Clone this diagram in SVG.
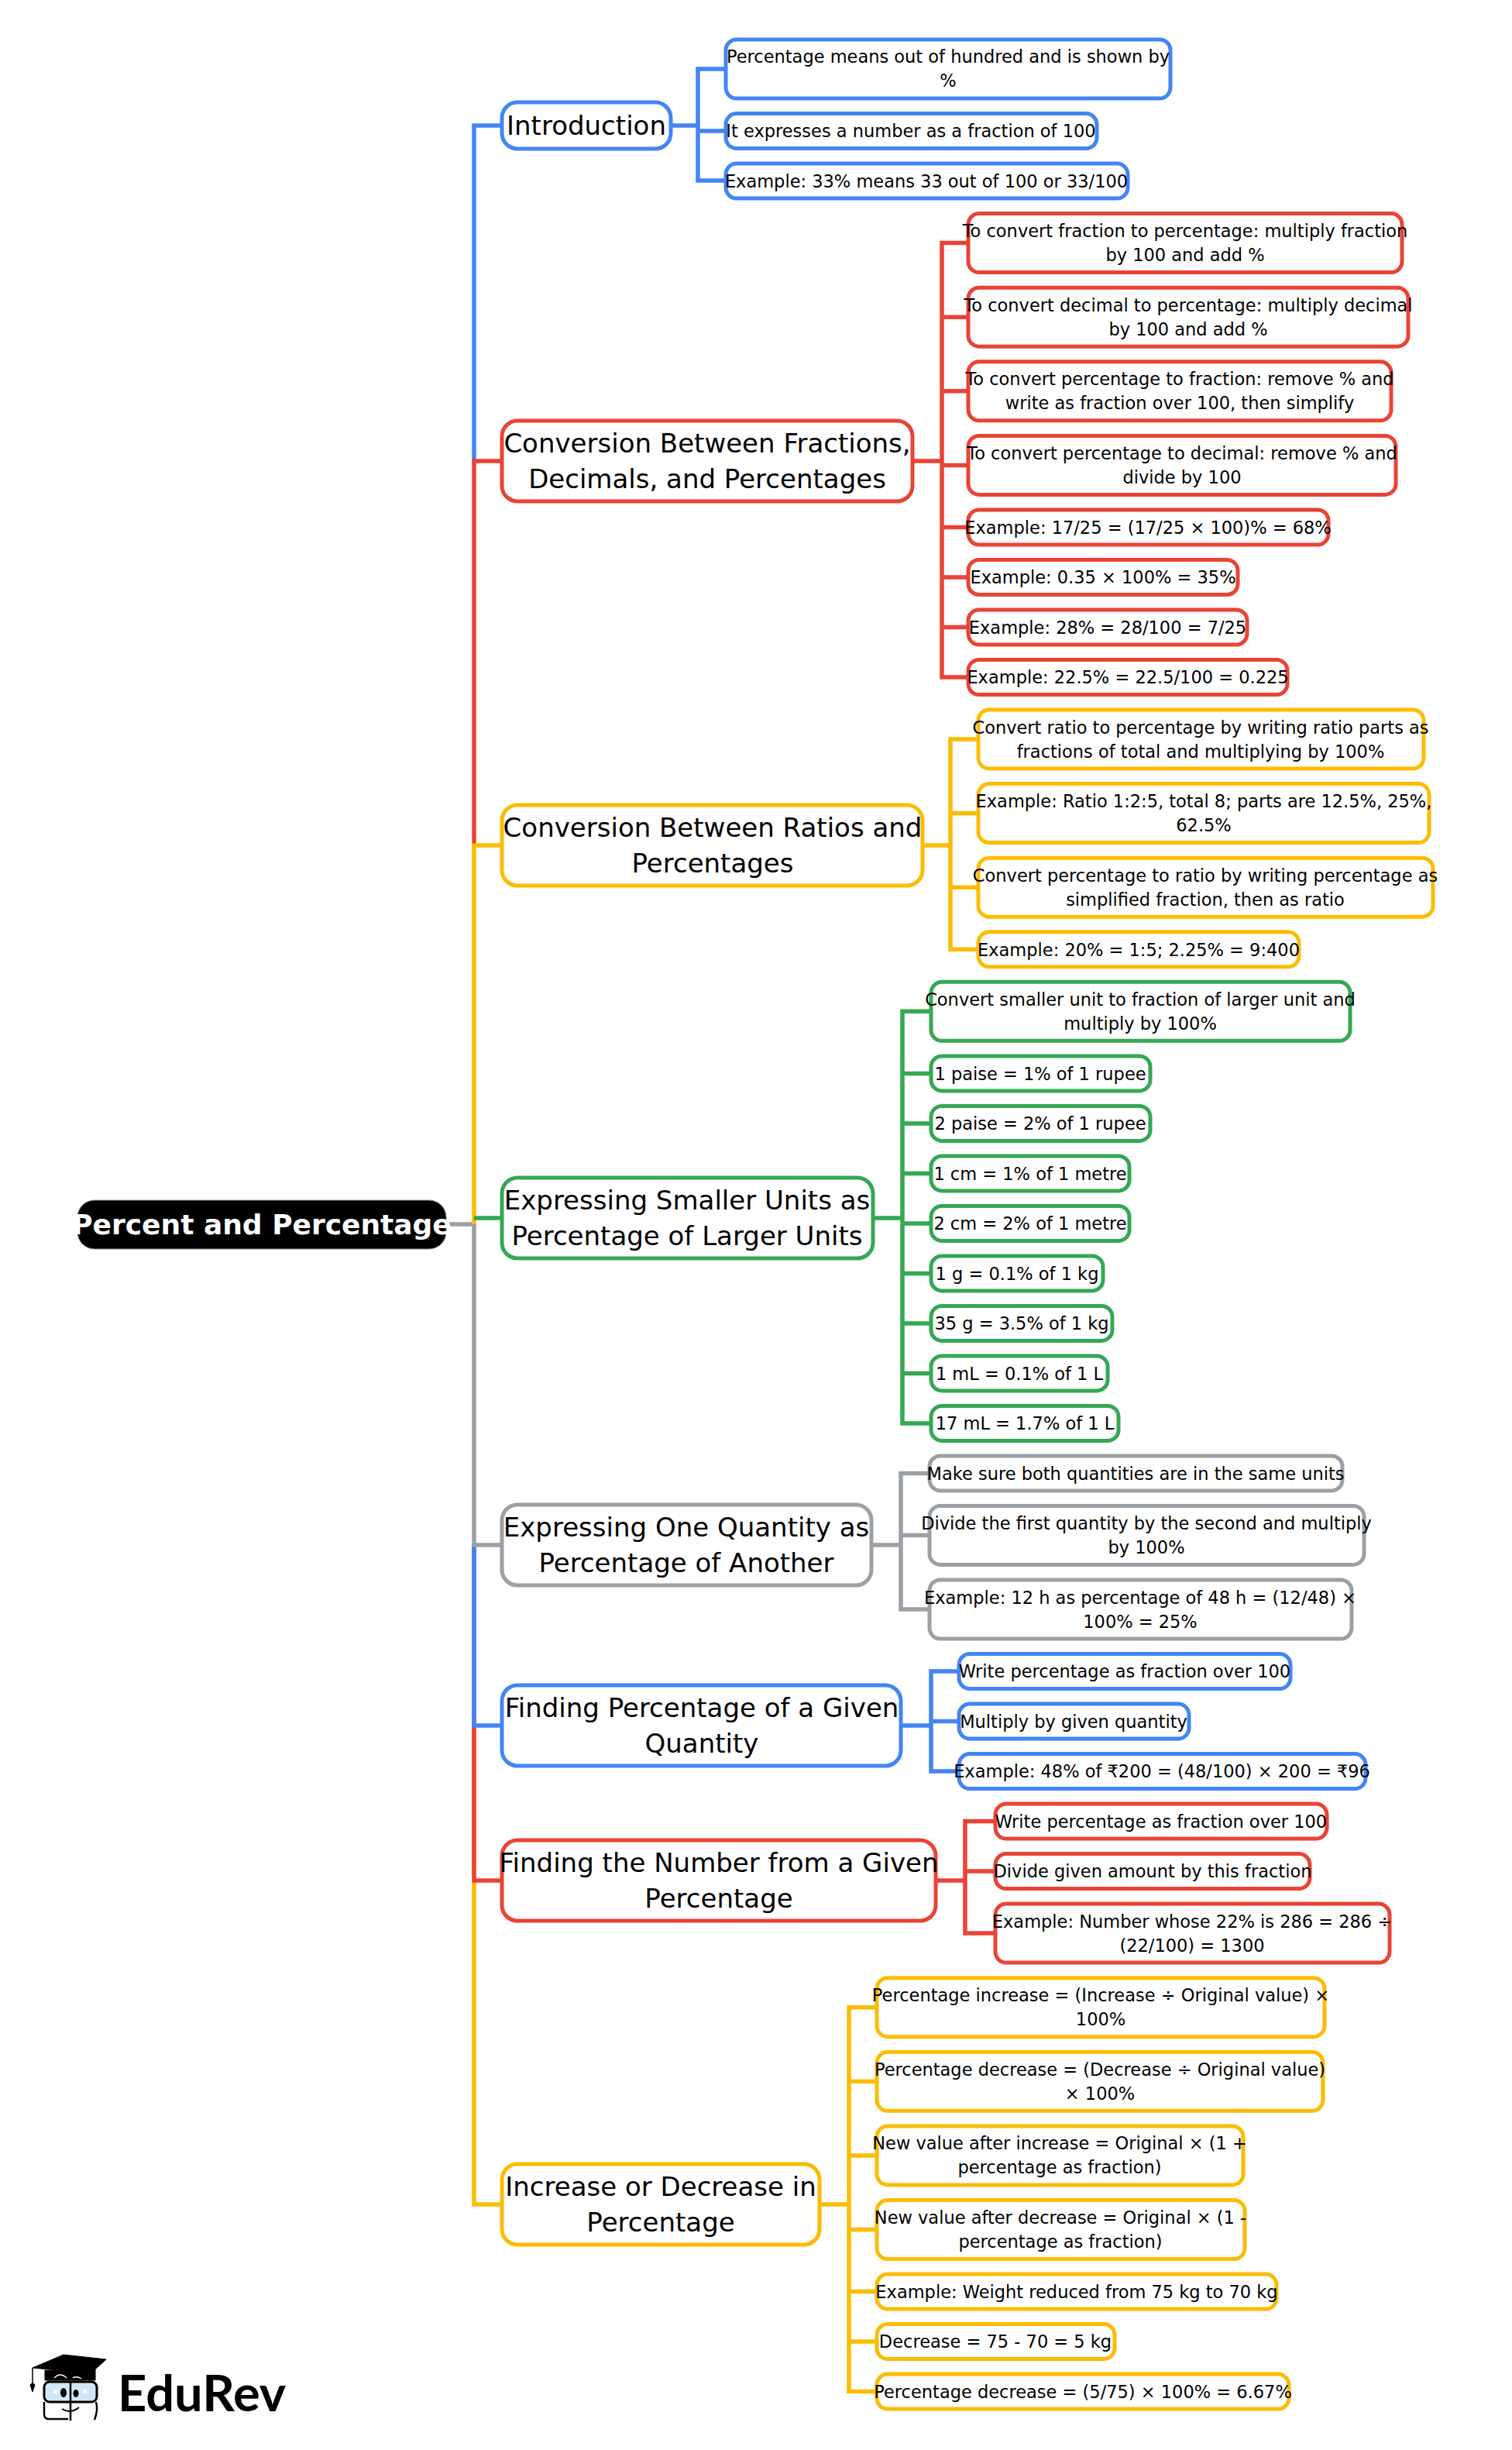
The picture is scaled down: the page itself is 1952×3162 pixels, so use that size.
<svg xmlns="http://www.w3.org/2000/svg" width="1952" height="3162" viewBox="0 0 1952 3162">
<style>
text{font-family:"DejaVu Sans",sans-serif;fill:#000;text-anchor:middle}
.l{font-size:22.5px}.m{font-size:34px}.r{font-size:36px;font-weight:bold;fill:#fff}
rect{fill:#fff;stroke-width:5}
.m0{rx:20px}.b{stroke:#4285F4}.e{stroke:#EA4335}.y{stroke:#FBBC04}.g{stroke:#34A853}.a{stroke:#9AA0A6}
path{fill:none;stroke-width:5.5}
</style>
<rect width="1952" height="3162" style="fill:#fff;stroke:none"/>
<g id="connectors">
<path class="a" d="M576 1580H612"/>
<path class="b" d="M612 595V162H648"/>
<path class="e" d="M612 1091V595H648"/>
<path class="y" d="M612 1580V1091H648"/>
<path class="g" d="M612 1572H648"/>
<path class="y" d="M612 1994V2845H648"/>
<path class="e" d="M612 1994V2427H648"/>
<path class="b" d="M612 1994V2227H648"/>
<path class="a" d="M612 1580V1994H648"/>
<path class="b" d="M866 162H901M937 89H901V233H937M901 169H937"/>
<path class="e" d="M1178 595H1216M1250 313.600H1216V874H1250M1216 409.200H1250M1216 504.800H1250M1216 600.400H1250M1216 680.500H1250M1216 745H1250M1216 809.500H1250"/>
<path class="y" d="M1191 1091H1227M1263 954H1227V1225.300H1263M1227 1049.600H1263M1227 1145.200H1263"/>
<path class="g" d="M1127 1572H1165M1202 1305.300H1165V1836.900H1202M1165 1385.400H1202M1165 1449.900H1202M1165 1514.400H1202M1165 1578.900H1202M1165 1643.400H1202M1165 1707.900H1202M1165 1772.400H1202"/>
<path class="a" d="M1125 1994H1163M1200 1901.400H1163V2077H1200M1163 1981.400H1200"/>
<path class="b" d="M1163 2227H1202M1238 2157.100H1202V2286.100H1238M1202 2221.600H1238"/>
<path class="e" d="M1208 2427H1246M1285 2350.600H1246V2495.100H1285M1246 2415.100H1285"/>
<path class="y" d="M1058 2845H1096M1132 2590.700H1096V3086.600H1132M1096 2686.300H1132M1096 2781.900H1132M1096 2877.500H1132M1096 2957.600H1132M1096 3022.100H1132"/>
</g>
<g id="root"><rect x="100" y="1549" width="476" height="63" rx="22" style="fill:#000;stroke:#888;stroke-width:1"/><text class="r" x="338" y="1593">Percent and Percentage</text></g>
<g id="n1"><rect class="b" x="648" y="132" width="218" height="60" rx="20"/><text class="m" x="757" y="174">Introduction</text></g>
<g id="n2"><rect class="e" x="648" y="543" width="530" height="104" rx="20"/><text class="m" x="913" y="584">Conversion Between Fractions,</text><text class="m" x="913" y="630">Decimals, and Percentages</text></g>
<g id="n3"><rect class="y" x="648" y="1039" width="543" height="104" rx="20"/><text class="m" x="920" y="1080">Conversion Between Ratios and</text><text class="m" x="920" y="1126">Percentages</text></g>
<g id="n4"><rect class="g" x="648" y="1520" width="479" height="104" rx="20"/><text class="m" x="887" y="1561">Expressing Smaller Units as</text><text class="m" x="887" y="1607">Percentage of Larger Units</text></g>
<g id="n5"><rect class="a" x="648" y="1942" width="477" height="104" rx="20"/><text class="m" x="886" y="1983">Expressing One Quantity as</text><text class="m" x="886" y="2029">Percentage of Another</text></g>
<g id="n6"><rect class="b" x="648" y="2175" width="515" height="104" rx="20"/><text class="m" x="906" y="2216">Finding Percentage of a Given</text><text class="m" x="906" y="2262">Quantity</text></g>
<g id="n7"><rect class="e" x="648" y="2375" width="560" height="104" rx="20"/><text class="m" x="928" y="2416">Finding the Number from a Given</text><text class="m" x="928" y="2462">Percentage</text></g>
<g id="n8"><rect class="y" x="648" y="2793" width="410" height="104" rx="20"/><text class="m" x="853" y="2834">Increase or Decrease in</text><text class="m" x="853" y="2880">Percentage</text></g>

<g id="l11"><rect class="b" x="937" y="51" width="574" height="76" rx="14"/><text class="l" x="1224" y="81">Percentage means out of hundred and is shown by</text><text class="l" x="1224" y="112">%</text></g>
<g id="l12"><rect class="b" x="937" y="146.600" width="479" height="45" rx="14"/><text class="l" x="1176" y="177">It expresses a number as a fraction of 100</text></g>
<g id="l13"><rect class="b" x="937" y="211.100" width="519" height="45" rx="14"/><text class="l" x="1196" y="241.500">Example: 33% means 33 out of 100 or 33/100</text></g>

<g id="l21"><rect class="e" x="1250" y="275.600" width="560" height="76" rx="14"/><text class="l" x="1530" y="306">To convert fraction to percentage: multiply fraction</text><text class="l" x="1530" y="337">by 100 and add %</text></g>
<g id="l22"><rect class="e" x="1250" y="371.200" width="568" height="76" rx="14"/><text class="l" x="1534" y="401.500">To convert decimal to percentage: multiply decimal</text><text class="l" x="1534" y="432.500">by 100 and add %</text></g>
<g id="l23"><rect class="e" x="1250" y="466.800" width="546" height="76" rx="14"/><text class="l" x="1523" y="497">To convert percentage to fraction: remove % and</text><text class="l" x="1523" y="528">write as fraction over 100, then simplify</text></g>
<g id="l24"><rect class="e" x="1250" y="562.400" width="552" height="76" rx="14"/><text class="l" x="1526" y="592.500">To convert percentage to decimal: remove % and</text><text class="l" x="1526" y="623.500">divide by 100</text></g>
<g id="l25"><rect class="e" x="1250" y="658" width="465" height="45" rx="14"/><text class="l" x="1482" y="688.500">Example: 17/25 = (17/25 × 100)% = 68%</text></g>
<g id="l26"><rect class="e" x="1250" y="722.500" width="348" height="45" rx="14"/><text class="l" x="1424" y="753">Example: 0.35 × 100% = 35%</text></g>
<g id="l27"><rect class="e" x="1250" y="787" width="360" height="45" rx="14"/><text class="l" x="1430" y="817.500">Example: 28% = 28/100 = 7/25</text></g>
<g id="l28"><rect class="e" x="1250" y="851.500" width="412" height="45" rx="14"/><text class="l" x="1456" y="882">Example: 22.5% = 22.5/100 = 0.225</text></g>

<g id="l31"><rect class="y" x="1263" y="916" width="575" height="76" rx="14"/><text class="l" x="1550" y="946.500">Convert ratio to percentage by writing ratio parts as</text><text class="l" x="1550" y="977.500">fractions of total and multiplying by 100%</text></g>
<g id="l32"><rect class="y" x="1263" y="1011.600" width="582" height="76" rx="14"/><text class="l" x="1554" y="1042">Example: Ratio 1:2:5, total 8; parts are 12.5%, 25%,</text><text class="l" x="1554" y="1073">62.5%</text></g>
<g id="l33"><rect class="y" x="1263" y="1107.200" width="587" height="76" rx="14"/><text class="l" x="1556" y="1137.500">Convert percentage to ratio by writing percentage as</text><text class="l" x="1556" y="1168.500">simplified fraction, then as ratio</text></g>
<g id="l34"><rect class="y" x="1263" y="1202.800" width="414" height="45" rx="14"/><text class="l" x="1470" y="1233.500">Example: 20% = 1:5; 2.25% = 9:400</text></g>

<g id="l41"><rect class="g" x="1202" y="1267.300" width="541" height="76" rx="14"/><text class="l" x="1472" y="1297.500">Convert smaller unit to fraction of larger unit and</text><text class="l" x="1472" y="1328.500">multiply by 100%</text></g>
<g id="l42"><rect class="g" x="1202" y="1362.900" width="283" height="45" rx="14"/><text class="l" x="1343" y="1393.500">1 paise = 1% of 1 rupee</text></g>
<g id="l43"><rect class="g" x="1202" y="1427.400" width="283" height="45" rx="14"/><text class="l" x="1343" y="1458">2 paise = 2% of 1 rupee</text></g>
<g id="l44"><rect class="g" x="1202" y="1491.900" width="256" height="45" rx="14"/><text class="l" x="1330" y="1522.500">1 cm = 1% of 1 metre</text></g>
<g id="l45"><rect class="g" x="1202" y="1556.400" width="256" height="45" rx="14"/><text class="l" x="1330" y="1587">2 cm = 2% of 1 metre</text></g>
<g id="l46"><rect class="g" x="1202" y="1620.900" width="222" height="45" rx="14"/><text class="l" x="1313" y="1651.500">1 g = 0.1% of 1 kg</text></g>
<g id="l47"><rect class="g" x="1202" y="1685.400" width="234" height="45" rx="14"/><text class="l" x="1319" y="1716">35 g = 3.5% of 1 kg</text></g>
<g id="l48"><rect class="g" x="1202" y="1749.900" width="228" height="45" rx="14"/><text class="l" x="1316" y="1780.500">1 mL = 0.1% of 1 L</text></g>
<g id="l49"><rect class="g" x="1202" y="1814.400" width="242" height="45" rx="14"/><text class="l" x="1323" y="1845">17 mL = 1.7% of 1 L</text></g>

<g id="l51"><rect class="a" x="1200" y="1878.900" width="533" height="45" rx="14"/><text class="l" x="1466" y="1909.500">Make sure both quantities are in the same units</text></g>
<g id="l52"><rect class="a" x="1200" y="1943.400" width="561" height="76" rx="14"/><text class="l" x="1480" y="1973.500">Divide the first quantity by the second and multiply</text><text class="l" x="1480" y="2004.500">by 100%</text></g>
<g id="l53"><rect class="a" x="1200" y="2039" width="545" height="76" rx="14"/><text class="l" x="1472" y="2069.500">Example: 12 h as percentage of 48 h = (12/48) ×</text><text class="l" x="1472" y="2100.500">100% = 25%</text></g>

<g id="l61"><rect class="b" x="1238" y="2134.600" width="428" height="45" rx="14"/><text class="l" x="1452" y="2165">Write percentage as fraction over 100</text></g>
<g id="l62"><rect class="b" x="1238" y="2199.100" width="297" height="45" rx="14"/><text class="l" x="1386" y="2229.500">Multiply by given quantity</text></g>
<g id="l63"><rect class="b" x="1238" y="2263.600" width="525" height="45" rx="14"/><text class="l" x="1500" y="2294">Example: 48% of ₹200 = (48/100) × 200 = ₹96</text></g>

<g id="l71"><rect class="e" x="1285" y="2328.100" width="428" height="45" rx="14"/><text class="l" x="1499" y="2358.500">Write percentage as fraction over 100</text></g>
<g id="l72"><rect class="e" x="1285" y="2392.600" width="406" height="45" rx="14"/><text class="l" x="1488" y="2423">Divide given amount by this fraction</text></g>
<g id="l73"><rect class="e" x="1285" y="2457.100" width="509" height="76" rx="14"/><text class="l" x="1539" y="2487.500">Example: Number whose 22% is 286 = 286 ÷</text><text class="l" x="1539" y="2518.500">(22/100) = 1300</text></g>

<g id="l81"><rect class="y" x="1132" y="2552.700" width="578" height="76" rx="14"/><text class="l" x="1421" y="2583">Percentage increase = (Increase ÷ Original value) ×</text><text class="l" x="1421" y="2614">100%</text></g>
<g id="l82"><rect class="y" x="1132" y="2648.300" width="576" height="76" rx="14"/><text class="l" x="1420" y="2678.500">Percentage decrease = (Decrease ÷ Original value)</text><text class="l" x="1420" y="2709.500">× 100%</text></g>
<g id="l83"><rect class="y" x="1132" y="2743.900" width="473" height="76" rx="14"/><text class="l" x="1368" y="2774">New value after increase = Original × (1 +</text><text class="l" x="1368" y="2805">percentage as fraction)</text></g>
<g id="l84"><rect class="y" x="1132" y="2839.500" width="475" height="76" rx="14"/><text class="l" x="1369" y="2870">New value after decrease = Original × (1 -</text><text class="l" x="1369" y="2901">percentage as fraction)</text></g>
<g id="l85"><rect class="y" x="1132" y="2935.100" width="516" height="45" rx="14"/><text class="l" x="1390" y="2965.500">Example: Weight reduced from 75 kg to 70 kg</text></g>
<g id="l86"><rect class="y" x="1132" y="2999.600" width="307" height="45" rx="14"/><text class="l" x="1285" y="3030">Decrease = 75 - 70 = 5 kg</text></g>
<g id="l87"><rect class="y" x="1132" y="3064.100" width="532" height="45" rx="14"/><text class="l" x="1398" y="3094.500">Percentage decrease = (5/75) × 100% = 6.67%</text></g>

<g id="logo">
<path d="M42 3056L82 3039L137 3045L112 3068L85 3060Z" style="fill:#000;stroke:#000;stroke-width:1"/>
<path d="M58 3059V3072H123V3058L112 3068L85 3060Z" style="fill:#000;stroke:#000;stroke-width:1"/>
<path d="M70 3069Q78 3061 86 3069M94 3069Q99 3066 105 3070" style="stroke:#fff;stroke-width:1.500"/>
<path d="M42 3056V3076" style="stroke:#000;stroke-width:1.500"/>
<path d="M42 3075L45 3078L42 3087L39 3078Z" style="fill:#000;stroke:#000;stroke-width:1"/>
<rect x="57" y="3074" width="68" height="26" rx="7" style="fill:#cfe8f7;stroke:#000;stroke-width:3"/>
<path d="M57 3100V3117Q58 3122 63 3122H88M124 3100Q127 3110 122 3123M91 3074V3124" style="stroke:#000;stroke-width:2.500"/>
<ellipse cx="82" cy="3088" rx="4" ry="6"/><ellipse cx="98" cy="3089" rx="3.500" ry="5"/>
<path d="M80 3109Q91 3116 102 3107" style="stroke:#000;stroke-width:2"/>
<rect x="69" y="3084" width="5" height="5" style="fill:#fff;stroke:none"/><rect x="107" y="3084" width="5" height="5" style="fill:#fff;stroke:none"/>
<text x="152" y="3112" style="font-family:Lato,sans-serif;font-weight:bold;font-size:65px;text-anchor:start">EduRev</text>
</g>
</svg>
